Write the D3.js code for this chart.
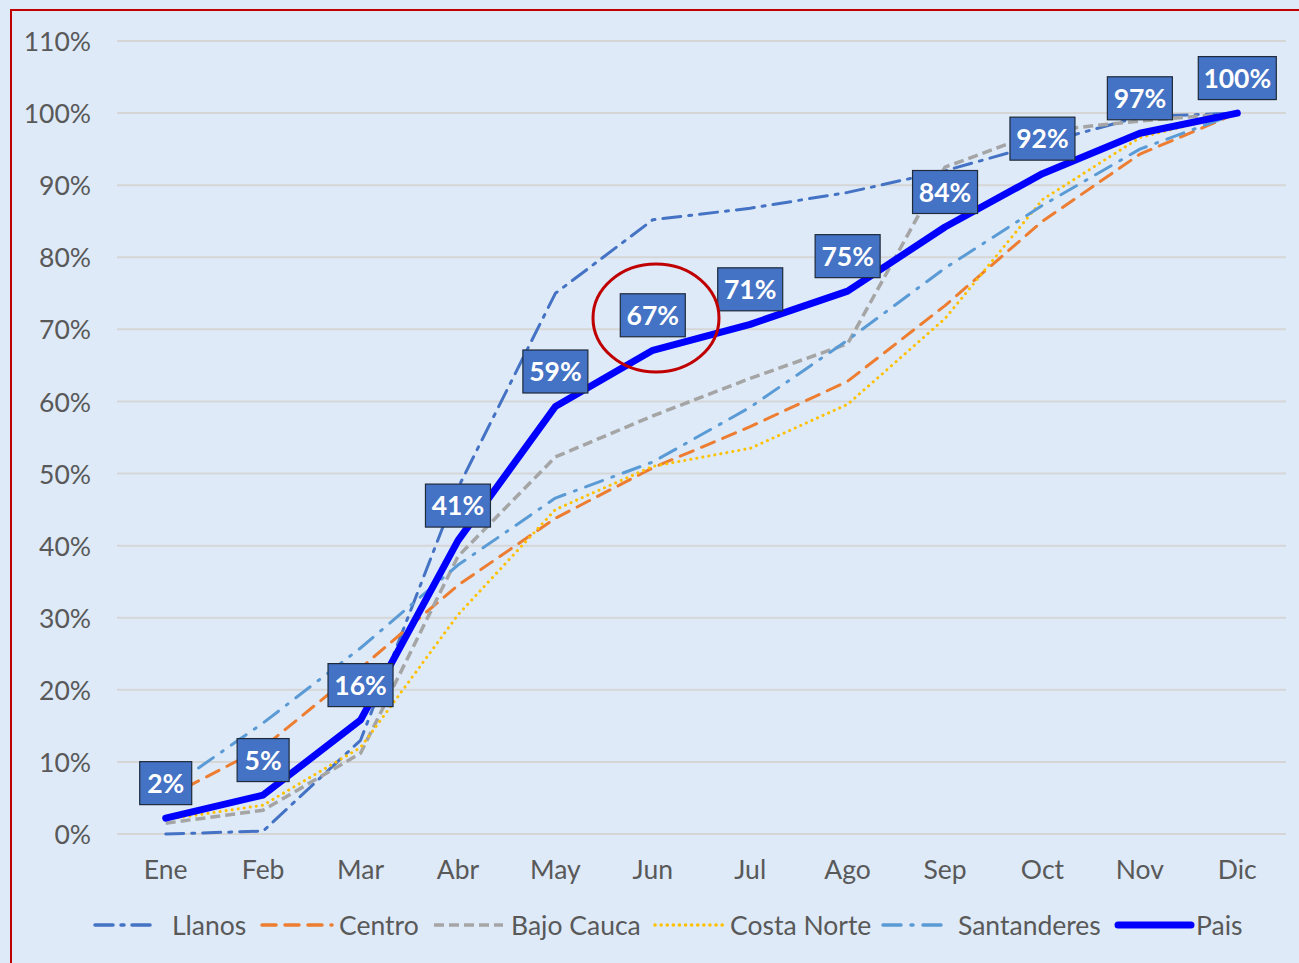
<!DOCTYPE html>
<html><head><meta charset="utf-8">
<script src="https://cdn.jsdelivr.net/npm/d3@7"></script>
<style>
html,body{margin:0;padding:0;background:#DEEAF8;}
svg{display:block;}
</style></head>
<body>
<script>
const months = ["Ene","Feb","Mar","Abr","May","Jun","Jul","Ago","Sep","Oct","Nov","Dic"];
const yTicks = [0,10,20,30,40,50,60,70,80,90,100,110];
const llanos      = [0, 0.4, 13, 48, 75, 85.2, 86.8, 89, 92, 95.8, 99.5, 100];
const centro      = [5, 12, 23, 34.5, 43.8, 50.8, 56.5, 62.8, 73.3, 85, 94.3, 100];
const bajoCauca   = [1.5, 3.3, 11.2, 38.5, 52.3, 58, 63.2, 68, 92.5, 97.5, 98.9, 100];
const costaNorte  = [2, 4, 12, 30.4, 45, 51, 53.5, 59.6, 71.5, 88, 96.6, 100];
const santanderes = [6, 15.4, 25.8, 37.3, 46.6, 51.6, 59.2, 68.5, 78.5, 87.2, 95, 100];
const pais        = [2.2, 5.4, 15.8, 40.7, 59.3, 67.1, 70.7, 75.3, 84.2, 91.6, 97.2, 100];
const paisLabels  = ["2%","5%","16%","41%","59%","67%","71%","75%","84%","92%","97%","100%"];
const seriesNames = ["Llanos","Centro","Bajo Cauca","Costa Norte","Santanderes","Pais"];

const W = 1299, H = 963;
const svg = d3.select("body").append("svg").attr("width", W).attr("height", H);
svg.append("rect").attr("width", W).attr("height", H).attr("fill", "#DEEAF8");
svg.append("rect").attr("x", 11).attr("y", 10).attr("width", 1300).attr("height", 980)
  .attr("fill", "none").attr("stroke", "#C00000").attr("stroke-width", 2);

const x = d3.scaleBand().domain(months).range([117, 1286]);
const y = d3.scaleLinear().domain([0, 110]).range([834, 41]);
const cx = m => x(m) + x.bandwidth() / 2;

const font = "Lato, 'Open Sans', 'Liberation Sans', sans-serif";

// gridlines
svg.append("g").selectAll("line").data(yTicks).join("line")
  .attr("x1", 117).attr("x2", 1286)
  .attr("y1", d => y(d)).attr("y2", d => y(d))
  .attr("stroke", "#D6D6D6").attr("stroke-width", 2);

// y axis
const yAxis = svg.append("g").attr("transform", "translate(91,0)")
  .call(d3.axisLeft(y).tickValues(yTicks).tickFormat(d => d + "%").tickSize(0).tickPadding(0));
yAxis.select(".domain").remove();
yAxis.selectAll("text").attr("font-family", font).attr("font-size", 26.5).attr("fill", "#595959").attr("dy", "0.36em");

// x axis
const xAxis = svg.append("g").attr("transform", "translate(0,869)")
  .call(d3.axisBottom(x).tickSize(0).tickPadding(0));
xAxis.select(".domain").remove();
xAxis.selectAll("text").attr("font-family", font).attr("font-size", 26.5).attr("fill", "#595959").attr("dy", "0.36em");

const styles = [
  {data: llanos, color: "#4472C4", dash: "18,8,3,8", w: 3, cap: "round"},
  {data: centro, color: "#ED7D31", dash: "14,9", w: 3, cap: "round"},
  {data: bajoCauca, color: "#A5A5A5", dash: "10,5", w: 3.5, cap: "butt"},
  {data: costaNorte, color: "#FFC000", dash: "0.1,6", w: 3, cap: "round"},
  {data: santanderes, color: "#5B9BD5", dash: "18,10,2,10", w: 3, cap: "round"},
  {data: pais, color: "#0000FF", dash: null, w: 7, cap: "round"}
];

const line = d3.line().x((d, i) => cx(months[i])).y(d => y(d));
styles.forEach(s => {
  svg.append("path").datum(s.data).attr("d", line)
    .attr("fill", "none").attr("stroke", s.color).attr("stroke-width", s.w)
    .attr("stroke-linejoin", "round").attr("stroke-linecap", s.cap)
    .attr("stroke-dasharray", s.dash);
});

// data labels
const lg = svg.append("g");
pais.forEach((v, i) => {
  const px = cx(months[i]), py = y(v) - 35;
  const t = paisLabels[i];
  const w = t.length === 2 ? 52 : (t.length === 3 ? 65 : 78);
  lg.append("rect").attr("x", px - w / 2).attr("y", py - 21.5).attr("width", w).attr("height", 43)
    .attr("fill", "#4472C4").attr("stroke", "#1F2A3A").attr("stroke-width", 1.2);
  lg.append("text").attr("x", px).attr("y", py).attr("dy", "0.36em")
    .attr("text-anchor", "middle").attr("font-family", font).attr("font-weight", "bold")
    .attr("font-size", 26.5).attr("fill", "#FFFFFF").text(t);
});

// red ellipse
svg.append("ellipse").attr("cx", 656).attr("cy", 318).attr("rx", 63).attr("ry", 54)
  .attr("fill", "none").attr("stroke", "#C00000").attr("stroke-width", 3);

// legend
const legendPos = [
  {x1: 95, x2: 156, tx: 172},
  {x1: 262, x2: 332, tx: 339},
  {x1: 434, x2: 503, tx: 511},
  {x1: 655, x2: 723, tx: 730},
  {x1: 883, x2: 944, tx: 958},
  {x1: 1118, x2: 1191, tx: 1196}
];
const leg = svg.append("g");
seriesNames.forEach((n, i) => {
  const s = styles[i], p = legendPos[i];
  leg.append("line").attr("x1", p.x1).attr("x2", p.x2).attr("y1", 925).attr("y2", 925)
    .attr("stroke", s.color).attr("stroke-width", s.w === 7 ? 7 : 3.5)
    .attr("stroke-linecap", s.cap).attr("stroke-dasharray", s.dash);
  leg.append("text").attr("x", p.tx).attr("y", 925).attr("dy", "0.36em")
    .attr("font-family", font).attr("font-size", 26.5).attr("fill", "#595959").text(n);
});
</script>
</body></html>
